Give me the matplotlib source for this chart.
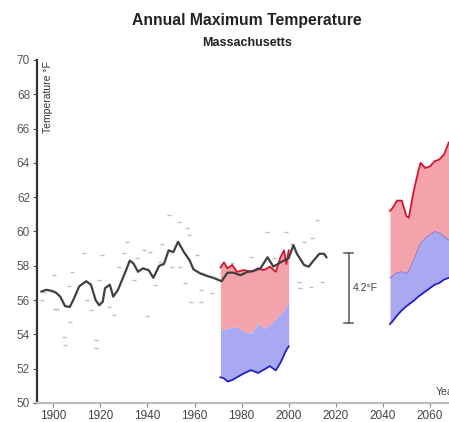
import matplotlib
matplotlib.use('Agg')
import matplotlib.pyplot as plt

plt.rcParams['font.family'] = ['Liberation Sans', 'DejaVu Sans']

# observed annual values (grey dashes)
pt_years = [1895.3, 1896, 1900.3, 1900.9, 1901.7, 1904.5, 1905, 1906.7, 1907.2, 1908,
            1913, 1914.5, 1915.9, 1918, 1918, 1919.4, 1920.9, 1923.7, 1925.8, 1927.9,
            1930, 1931.5, 1934.3, 1935.6, 1938.4, 1940, 1941.3, 1943.4, 1945.5, 1946.3,
            1949, 1950.5, 1953.3, 1954, 1956, 1956.9, 1957.6, 1958.3, 1961, 1962.6,
            1962.6, 1963.3, 1967.5, 1976, 1978.2, 1983.8, 1990.9, 1993.7, 1998.7, 2001.6,
            2004.4, 2005, 2006.5, 2009.4, 2010, 2012.2, 2014.3]
pt_temps = [56.0, 56.5, 57.46, 55.5, 55.46, 53.87, 53.4, 56.8, 54.74, 57.65,
            58.76, 56.0, 55.42, 53.7, 53.2, 57.17, 58.63, 55.62, 55.13, 57.95,
            58.73, 59.4, 57.17, 58.44, 58.92, 55.1, 58.82, 56.9, 58.24, 59.3,
            60.96, 57.95, 60.57, 57.95, 56.98, 60.18, 59.8, 55.9, 58.63, 56.6,
            55.9, 57.56, 56.4, 58.15, 57.56, 58.53, 59.99, 58.44, 59.99, 59.3,
            57.07, 56.69, 59.4, 56.78, 59.6, 60.67, 57.07]

# smoothed observed series
obs_years = [1895, 1897, 1899, 1901, 1903, 1905, 1907, 1908.5, 1911, 1914, 1916, 1918,
             1919.5, 1921, 1922, 1924, 1925.5, 1927.5, 1930.5, 1932.5, 1934, 1936, 1938,
             1940.5, 1942.5, 1945, 1947, 1949, 1951, 1953, 1955.5, 1958, 1959.5, 1962.5,
             1965.5, 1968, 1971.5, 1974, 1976.5, 1979.5, 1982.5, 1985, 1988, 1991, 1993.5,
             1996.5, 2000, 2002, 2003.5, 2006.5, 2008.5, 2010.5, 2013, 2015, 2016]
obs_temps = [56.5, 56.6, 56.55, 56.45, 56.2, 55.65, 55.6, 56.0, 56.8, 57.1, 56.9, 56.0,
             55.7, 55.9, 56.7, 56.9, 56.2, 56.6, 57.6, 58.3, 58.15, 57.65, 57.85,
             57.75, 57.3, 58.0, 58.1, 58.9, 58.8, 59.4, 58.8, 58.3, 57.8, 57.55,
             57.4, 57.3, 57.1, 57.6, 57.6, 57.45, 57.65, 57.7, 57.85, 58.5, 57.95,
             58.2, 58.45, 59.2, 58.7, 58.05, 57.95, 58.3, 58.7, 58.7, 58.5]

# modelled historical range
hist_years = [1971, 1972.5, 1974, 1976, 1978, 1981, 1984, 1987, 1989.5, 1992, 1994.5,
              1996.5, 1998, 1999, 2000]
hist_high = [57.9, 58.2, 57.85, 58.05, 57.65, 57.75, 57.65, 57.85, 57.75, 57.95, 57.65,
             58.5, 58.9, 58.1, 58.9]
hist_mid = [54.3, 54.26, 54.36, 54.4, 54.45, 54.16, 54.06, 54.65, 54.36, 54.55, 54.9,
            55.2, 55.42, 55.7, 55.9]
hist_low = [51.5, 51.44, 51.25, 51.34, 51.5, 51.73, 51.92, 51.75, 51.95, 52.15, 51.9,
            52.35, 52.8, 53.1, 53.3]

# projected range
fut_years = [2043, 2044, 2046, 2048, 2050, 2051, 2053, 2055, 2056, 2058, 2060, 2062,
             2064, 2066, 2068, 2070]
fut_high = [61.2, 61.35, 61.8, 61.8, 60.9, 60.8, 62.3, 63.5, 64.0, 63.7, 63.8, 64.1,
            64.2, 64.5, 65.2, 65.3]
fut_mid = [57.3, 57.4, 57.6, 57.65, 57.55, 57.7, 58.3, 59.0, 59.3, 59.6, 59.8, 60.0,
           59.9, 59.7, 59.5, 59.4]
fut_low = [54.6, 54.75, 55.1, 55.4, 55.65, 55.75, 55.95, 56.2, 56.3, 56.5, 56.7, 56.9,
           57.0, 57.2, 57.3, 57.4]

red_fill = '#f5a3aa'
blue_fill = '#a9a9f2'
red_line = '#d2142e'
blue_line = '#2424c4'

fig = plt.figure(figsize=(4.49, 4.22), dpi=100)
ax = fig.add_axes([37 / 449, 19 / 422, 486 / 449, 343 / 422])

ax.plot(pt_years, pt_temps, ls='none', marker='_', ms=3.5, mew=1.0, color='#bdbdbd', zorder=1)

ax.fill_between(hist_years, hist_mid, hist_high, color=red_fill, lw=0, zorder=2)
ax.fill_between(hist_years, hist_low, hist_mid, color=blue_fill, lw=0, zorder=2)
ax.fill_between(fut_years, fut_mid, fut_high, color=red_fill, lw=0, zorder=2)
ax.fill_between(fut_years, fut_low, fut_mid, color=blue_fill, lw=0, zorder=2)
ax.plot(fut_years, fut_mid, color='#8a7fd8', lw=0.8, zorder=3)

ax.plot(hist_years, hist_high, color=red_line, lw=1.3, zorder=3)
ax.plot(hist_years, hist_low, color=blue_line, lw=1.3, zorder=3)
ax.plot(fut_years, fut_high, color=red_line, lw=1.3, zorder=3)
ax.plot(fut_years, fut_low, color=blue_line, lw=1.3, zorder=3)

ax.plot(obs_years, obs_temps, color='#404040', lw=1.6, zorder=4)

# 4.2°F bracket
ax.plot([2025.5, 2025.5], [54.68, 58.76], color='#555555', lw=1.1)
ax.plot([2023.5, 2027.5], [58.76, 58.76], color='#555555', lw=1.1)
ax.plot([2023.5, 2027.5], [54.68, 54.68], color='#555555', lw=1.1)
ax.text(2027.3, 56.7, '4.2°F', fontsize=7.5, color='#444444', va='center', ha='left')

ax.set_xlim(1893.1, 2099.5)
ax.set_ylim(50, 70)
ax.set_yticks(range(50, 71, 2))
ax.set_xticks(range(1900, 2100, 20))

for s in ['top', 'right']:
    ax.spines[s].set_visible(False)
ax.spines['left'].set_color('#333333')
ax.spines['left'].set_linewidth(1.6)
ax.spines['bottom'].set_color('#bdbdbd')
ax.spines['bottom'].set_linewidth(1.6)
ax.tick_params(axis='y', length=3, width=0.8, color='#555555', labelsize=8.5,
               labelcolor='#555555', pad=2)
ax.tick_params(axis='x', length=3, width=0.8, color='#888888', labelsize=8.5,
               labelcolor='#444444', pad=2)

ax.text(0.012, 0.997, 'Temperature °F', transform=ax.transAxes, rotation=90,
        fontsize=7.5, color='#333333', ha='left', va='top')
ax.text(2062.5, 50.64, 'Year', fontsize=7.5, color='#444444', ha='left', va='center')

fig.text(247 / 449, 1 - 20 / 422, 'Annual Maximum Temperature', fontsize=11.3,
         fontweight='bold', color='#222222', ha='center', va='center')
fig.text(247 / 449, 1 - 43 / 422, 'Massachusetts', fontsize=9,
         fontweight='bold', color='#222222', ha='center', va='center')

fig.savefig('out.png', dpi=100)
